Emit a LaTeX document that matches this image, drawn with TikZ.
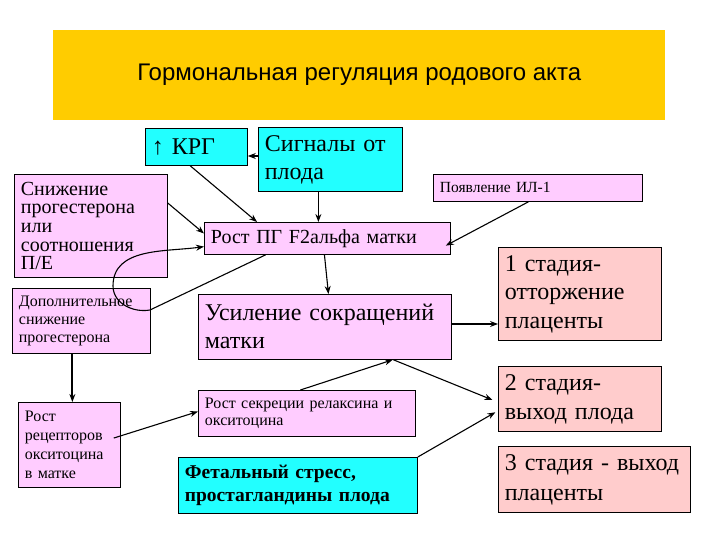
\documentclass[tikz,border=0pt]{standalone}
\usepackage{fontspec}
\setmainfont{Liberation Serif}
\newfontfamily\titlefont{Liberation Sans}
\usetikzlibrary{calc,arrows.meta}
\definecolor{boxpink}{HTML}{FFCCFF}
\definecolor{boxcyan}{HTML}{22FFFF}
\definecolor{boxsalmon}{HTML}{FFCCCC}
\definecolor{bandyellow}{HTML}{FFCC00}
\tikzset{
  box/.style={draw=black, line width=0.8pt, anchor=north west, inner xsep=6.5pt, inner ysep=0pt, align=left},
  pinkb/.style={box, fill=boxpink},
  cyanb/.style={box, fill=boxcyan},
  salb/.style={box, fill=boxsalmon},
  arr/.style={line width=1.1pt, -{Stealth[length=8pt,width=6pt]}},
}
\begin{document}
\begin{tikzpicture}[x=1pt,y=-1pt]
\useasboundingbox (0,0) rectangle (720,540);
\fill[white] (0,0) rectangle (720,540);
% title band
\node[fill=bandyellow, anchor=north west, minimum width=612pt, minimum height=90pt, inner sep=0pt,
      font=\titlefont\fontsize{24}{28}\selectfont] (title) at (53,30) {Гормональная регуляция родового акта};
% boxes
\node[cyanb, minimum width=102pt, minimum height=37pt, text width=89pt, font=\fontsize{24}{28}\selectfont] (krg) at (145,128) {↑ КРГ};
\node[cyanb, minimum width=144pt, minimum height=64pt, text width=131pt, font=\fontsize{24}{28}\selectfont] (sig) at (258,127) {Сигналы от\\плода};
\node[pinkb, minimum width=153pt, minimum height=103pt, text width=140pt, font=\fontsize{20}{18.7}\selectfont] (sn) at (14,174) {Снижение\\прогестерона\\или\\соотношения\\П/Е};
\node[pinkb, minimum width=138pt, minimum height=65pt, text width=125pt, font=\fontsize{16}{18}\selectfont] (dop) at (12,288) {Дополнительное\\снижение\\прогестерона};
\node[pinkb, minimum width=246pt, minimum height=32pt, text width=233pt, font=\fontsize{20}{24}\selectfont] (pg) at (204,222) {Рост ПГ F2альфа матки};
\node[pinkb, minimum width=209pt, minimum height=27pt, text width=196pt, font=\fontsize{15.5}{18}\selectfont] (il) at (433,174) {Появление ИЛ-1};
\node[pinkb, minimum width=253pt, minimum height=65pt, text width=240pt, font=\fontsize{24}{28}\selectfont] (us) at (198,294) {Усиление сокращений\\матки};
\node[salb, minimum width=163pt, minimum height=93pt, text width=150pt, font=\fontsize{24}{28.5}\selectfont] (st1) at (498,247) {1 стадия-\\отторжение\\плаценты};
\node[pinkb, minimum width=102pt, minimum height=85pt, text width=89pt, font=\fontsize{16}{19}\selectfont] (rr) at (18,402) {Рост\\рецепторов\\окситоцина\\в матке};
\node[pinkb, minimum width=217pt, minimum height=46pt, text width=204pt, font=\fontsize{16}{17.5}\selectfont] (rs) at (198,390) {Рост секреции релаксина и\\окситоцина};
\node[cyanb, minimum width=239pt, minimum height=56pt, text width=226pt, font=\bfseries\fontsize{19.5}{23}\selectfont] (fet) at (178,457) {Фетальный стресс,\\простагландины плода};
\node[salb, minimum width=163pt, minimum height=65pt, text width=150pt, font=\fontsize{24}{29}\selectfont] (st2) at (498,366) {2 стадия-\\выход плода};
\node[salb, minimum width=192pt, minimum height=66pt, text width=179pt, font=\fontsize{24}{30}\selectfont] (st3) at (498,446) {3 стадия - выход\\плаценты};
% connectors
\draw[arr] (sig.west |- 0,156) -- (krg.east |- 0,156);
\draw[arr] ($(krg.south west)!0.44!(krg.south east)$) -- ($(pg.north west)!0.215!(pg.north east)$);
\coordinate (sigS) at ($(sig.south west)!0.417!(sig.south east)$);
\draw[arr] (sigS) -- (sigS |- pg.north);
\draw[arr] ($(sn.north east)!0.28!(sn.south east)$) -- ($(pg.north west)!0.35!(pg.south west)$);
\coordinate (loopA) at (150,310);
\coordinate (loopB) at (113,286);
\draw[arr] ($(pg.south west)!0.25!(pg.south east)$) -- (loopA) to[out=190,in=270] (loopB) to[out=90,in=188] ($(pg.north west)!0.75!(pg.south west)$);
\draw[arr] ($(pg.south west)!0.488!(pg.south east)$) -- ($(us.north west)!0.514!(us.north east)$);
\draw[arr] ($(il.south west)!0.455!(il.south east)$) -- ($(pg.north east)!0.72!(pg.south east)+(-5,0)$);
\draw[arr] (us.east |- 0,324) -- (st1.west |- 0,324);
\coordinate (dopS) at ($(dop.south west)!0.435!(dop.south east)$);
\draw[arr, line width=2pt] (dopS) -- (dopS |- rr.north);
\draw[arr] ($(rr.north east)!0.42!(rr.south east)+(-7,0)$) -- ($(rs.north west)!0.46!(rs.south west)$);
\draw[arr] ($(rs.north west)!0.47!(rs.north east)$) -- ($(us.south west)!0.767!(us.south east)$);
\draw[arr, shorten >=6pt] ($(us.south west)!0.77!(us.south east)$) -- ($(st2.north west)!0.55!(st2.south west)$);
\draw[arr, shorten >=3pt] (fet.north east) -- ($(st2.north west)!0.68!(st2.south west)$);
\end{tikzpicture}
\end{document}
